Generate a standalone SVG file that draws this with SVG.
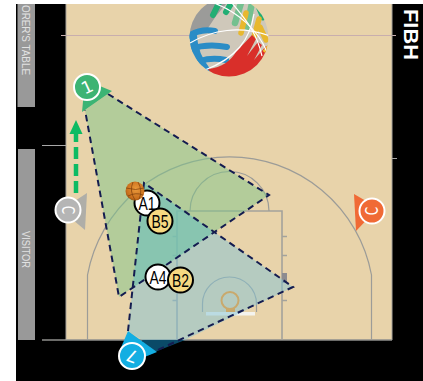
<svg xmlns="http://www.w3.org/2000/svg" width="423" height="381" viewBox="0 0 423 381">
<style>
.ln{fill:none;stroke:#9c9c98;stroke-width:1.2}
.thk{fill:none;stroke:#a3a29c;stroke-width:1.6}
.dash{fill:none;stroke:#141c50;stroke-width:2;stroke-dasharray:6.500 4.500}
.side{font-family:"Liberation Sans",Arial,sans-serif;font-size:11.500px;fill:#e2e2e2}
.pl{stroke:#fff;stroke-width:2}
.num{font-family:"DejaVu Sans",sans-serif;font-size:17px;fill:#fff;text-anchor:middle}
.tok{stroke:#000;stroke-width:2}
.tl{font-family:"Liberation Sans",Arial,sans-serif;font-size:19px;fill:#000}
</style>
<defs>
<clipPath id="logoClip"><rect x="180" y="4" width="100" height="80"/></clipPath>
<clipPath id="ballClip"><circle cx="229" cy="37" r="39.5"/></clipPath>
<radialGradient id="ballFill" cx=".55" cy=".4" r=".7"><stop offset="0" stop-color="#ea9a3c"/><stop offset=".7" stop-color="#c96f1c"/><stop offset="1" stop-color="#7a4310"/></radialGradient>
</defs>
<rect width="423" height="381" fill="#fff"/>
<rect x="16" y="4" width="407" height="377" fill="#000"/>
<rect x="66" y="4" width="326" height="336" fill="#e8d3aa"/>
<g id="court">
<path d="M61 35.500H396" fill="none" stroke="#c8aeae" stroke-width="1.2"/>
<path d="M42 145.500H66M392 158.500H397" fill="none" stroke="#a8a8a8" stroke-width="1.2"/>
<path d="M42 340H392" fill="none" stroke="#8f8f8c" stroke-width="1.4"/>
<path d="M66 4V340M392 4V340" fill="none" stroke="#a8a49c" stroke-width="1"/>
<path class="ln" d="M87.500 340V275A144.400 144.400 0 0 1 371.500 275V340"/>
<path class="thk" d="M177 340V211H282V340"/>
<path class="ln" d="M190 211A39.500 39.500 0 0 1 269 211"/>
<path class="ln" d="M202.500 312V304A27 27 0 0 1 256.500 304V312"/>
<path d="M172.500 236.500H177M172.500 255.500H177M172.500 300.500H177M282 236.500H287M282 255.500H287M282 300.500H287" fill="none" stroke="#a3a29c" stroke-width="1.400"/>
<rect x="282" y="273" width="5" height="10" fill="#8d8c90"/>
<rect x="206" y="312" width="49" height="3.500" fill="#f4f3ee"/>
</g>
<g id="logo" clip-path="url(#logoClip)">
<g clip-path="url(#ballClip)">
<circle cx="229" cy="37" r="39.500" fill="#cfc8ba"/>
<path d="M187 40A42 42 0 0 1 224 -4L226 4L216 16L208 28L190 36Z" fill="#9b9b99"/>
<g fill="none" stroke-linecap="round">
<g stroke="#2a8cc6" stroke-width="6">
<path d="M187 37Q200 28 215 31"/>
<path d="M190 49Q208 43 227 47"/>
<path d="M200 61Q212 57 226 60"/>
<path d="M193 36Q194 55 206 70" stroke-width="8"/>
</g>
<g stroke="#22ae74" stroke-width="6">
<path d="M213 15L219 3"/>
<path d="M226 12L232 2"/>
<path d="M263 18L257 4" stroke-width="5"/>
</g>
<g stroke="#74c08f" stroke-width="6.500">
<path d="M235 23L241 3"/>
<path d="M247 27L252 3"/>
</g>
<g stroke="#e8b82e" stroke-width="5.500">
<path d="M241 33L246 13"/>
<path d="M254 37L259 19"/>
<path d="M266 40L260 27"/>
</g>
</g>
<path d="M208 69C222 68 231 60 236 52L252 35L256 39L247 56L258 42L262 45L254 60L266 46L271 50C264 70 246 78 228 78C220 78 212 75 208 69Z" fill="#d92f2a"/>
<path d="M264 52L269 46" stroke="#f2c230" stroke-width="3.500" fill="none"/>
<g fill="none" stroke="#fff" stroke-width="1.200">
<path d="M190 43C212 30 240 25 270 36"/>
<path d="M205 70C236 58 250 40 254 14"/>
<path d="M214 3C238 12 258 30 267 52"/>
<path d="M232 3C244 18 256 30 262 56"/>
</g>
</g>
</g>
<rect x="17.500" y="4" width="17.500" height="103" fill="#999"/>
<rect x="18" y="149" width="17" height="191" fill="#999"/>
<text class="side" transform="translate(22 5) rotate(90)" textLength="70" lengthAdjust="spacingAndGlyphs">ORER'S TABLE</text>
<text class="side" transform="translate(22 231) rotate(90)" textLength="37" lengthAdjust="spacingAndGlyphs">VISITOR</text>
<text transform="translate(404 9) rotate(90)" font-family="'Liberation Sans',Arial,sans-serif" font-weight="700" font-size="21" fill="#fff" textLength="51" lengthAdjust="spacingAndGlyphs">FIBH</text>
<g id="connectors">
<polygon points="85,110 108,94 269,195 119,297" fill="#7ec58a" fill-opacity=".5"/>
<polygon points="128,331 144,183 293,287 185,340 142,340" fill="#82c3d6" fill-opacity=".5"/>
<polygon points="144,183 214.400,232 132.700,287.700" fill="#5fbfa0" fill-opacity=".3"/>
<polygon points="142,340 185,340 147,355" fill="#0a4a68"/>
<path class="dash" d="M108 94L269 195L119 297L85 110"/>
<path class="dash" d="M128 331L144 183L293 287L147 355"/>
<path d="M76 193V132" fill="none" stroke="#0cbb63" stroke-width="4.500" stroke-dasharray="12 5"/>
<polygon points="76,120 69.500,134 82.500,134" fill="#0cbb63"/>
</g>
<circle cx="230" cy="300.500" r="8.500" fill="none" stroke="#c9a96c" stroke-width="2"/>
<rect x="226" y="308" width="9" height="4" fill="#c9a96c"/>
<g id="player-1">
<polygon points="112,91 82,112 85,80" fill="#3cb474"/>
<circle class="pl" cx="87" cy="87" r="13" fill="#3cb474"/>
<text class="num" transform="translate(87 87) rotate(-25)" y="6">1</text>
</g>
<g id="player-7">
<polygon points="128,331 157,352 132,362 120,350" fill="#13aee2"/>
<circle class="pl" cx="132" cy="356" r="13" fill="#13aee2"/>
<text class="num" transform="translate(132 356) rotate(-160)" y="6">7</text>
</g>
<g id="coach-visitor">
<polygon points="87,193 85,230 61,210" fill="#afaea8"/>
<circle class="pl" cx="68" cy="210" r="12.500" fill="#b5b5b5"/>
<text class="num" transform="translate(68 210) rotate(90) scale(.7 1)" y="6">C</text>
</g>
<g id="coach-home">
<polygon points="354,194 356,231 378,208" fill="#f06a35"/>
<circle class="pl" cx="372" cy="211" r="12.500" fill="#f06a35"/>
<text class="num" transform="translate(372 211) rotate(-90) scale(.7 1)" y="6">C</text>
</g>
<g id="A1">
<circle class="tok" cx="147" cy="203" r="12.500" fill="#fff"/>
<text class="tl" x="138.500" y="209.500" textLength="17" lengthAdjust="spacingAndGlyphs">A1</text>
</g>
<g id="ball">
<circle cx="135" cy="191" r="9.500" fill="url(#ballFill)"/>
<path d="M126 188Q136 191 144 188M128 196Q136 192 143 195M133 182Q129 191 135 200M138 182Q143 191 139 199" fill="none" stroke="#7a3c0c" stroke-width=".7"/>
</g>
<g id="B5">
<circle class="tok" cx="160" cy="221" r="12.500" fill="#f6d981"/>
<text class="tl" x="151.500" y="227.500" textLength="17" lengthAdjust="spacingAndGlyphs">B5</text>
</g>
<g id="A4">
<circle class="tok" cx="158" cy="277" r="12.500" fill="#fff"/>
<text class="tl" x="149.500" y="283.500" textLength="17" lengthAdjust="spacingAndGlyphs">A4</text>
</g>
<g id="B2">
<circle class="tok" cx="180.500" cy="280" r="12.500" fill="#f6d981"/>
<text class="tl" x="172" y="286.500" textLength="17" lengthAdjust="spacingAndGlyphs">B2</text>
</g>
</svg>
